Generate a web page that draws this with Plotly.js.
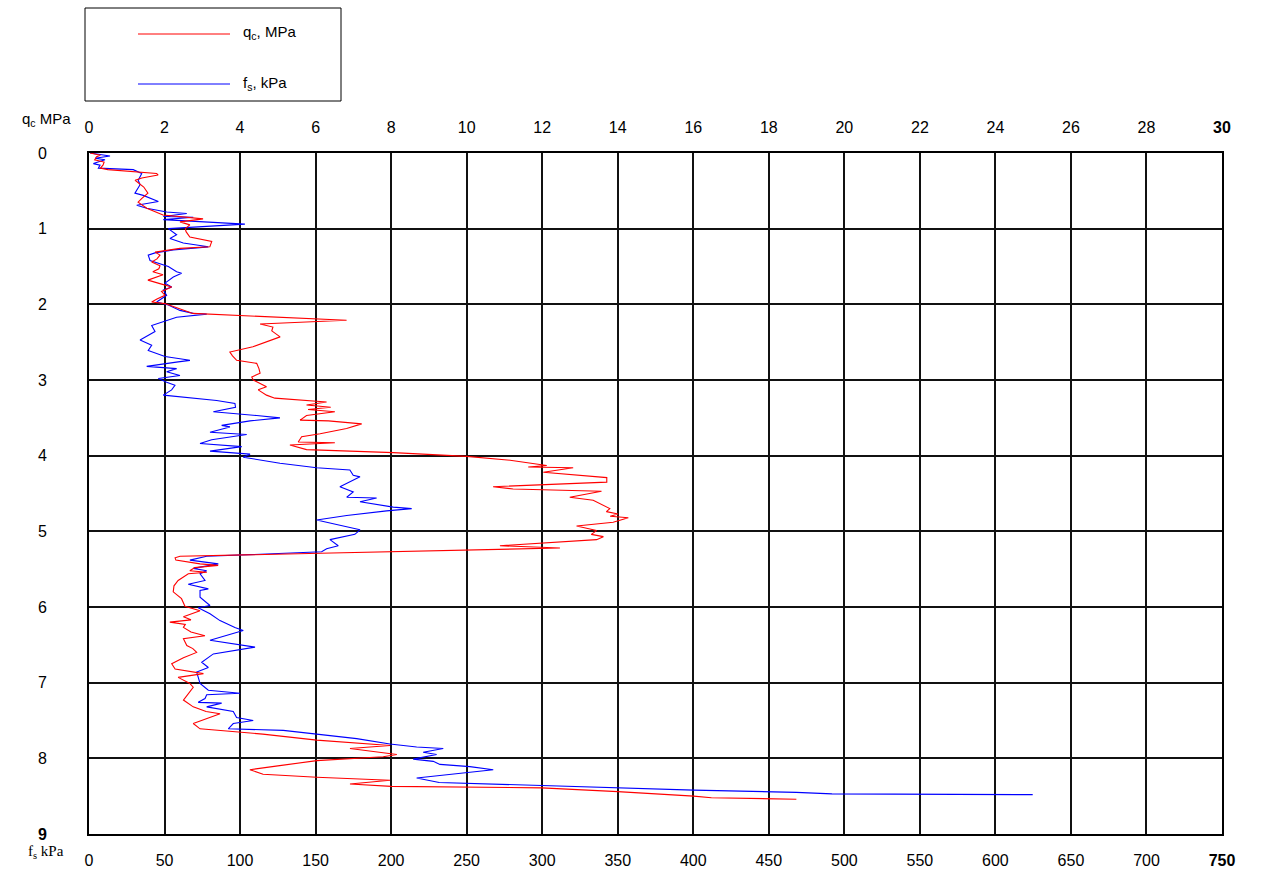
<!DOCTYPE html>
<html>
<head>
<meta charset="utf-8">
<script src="https://cdn.plot.ly/plotly-3.0.1.min.js"></script>
<style>html,body{margin:0;padding:0;background:#fff;}#chart{width:1268px;height:872px;}</style>
</head>
<body>
<div id="chart"></div>
<script>
// Cone resistance qc (MPa) vs depth (m)
const depthQc = [0.00,0.03,0.05,0.09,0.12,0.16,0.20,0.22,0.27,0.29,0.33,0.36,0.45,0.53,0.60,0.65,0.73,0.82,0.87,0.91,0.95,1.00,1.04,1.11,1.17,1.24,1.26,1.31,1.35,1.40,1.44,1.49,1.53,1.57,1.61,1.68,1.73,1.77,1.83,1.88,1.93,1.97,1.99,2.06,2.12,2.21,2.23,2.26,2.30,2.35,2.43,2.50,2.56,2.63,2.68,2.74,2.78,2.85,2.91,2.96,3.00,3.09,3.13,3.20,3.24,3.29,3.31,3.33,3.36,3.39,3.42,3.47,3.53,3.54,3.58,3.64,3.71,3.75,3.82,3.83,3.86,3.92,3.96,4.01,4.06,4.13,4.15,4.16,4.22,4.29,4.35,4.38,4.41,4.44,4.47,4.55,4.59,4.70,4.74,4.77,4.80,4.82,4.88,4.93,4.99,5.04,5.07,5.11,5.19,5.22,5.25,5.29,5.33,5.35,5.38,5.43,5.45,5.48,5.52,5.54,5.56,5.65,5.72,5.80,5.89,5.99,6.05,6.13,6.17,6.20,6.23,6.27,6.33,6.38,6.42,6.51,6.55,6.60,6.67,6.75,6.82,6.88,6.93,7.01,7.06,7.15,7.23,7.32,7.38,7.41,7.46,7.54,7.61,7.63,7.68,7.76,7.83,7.87,7.95,7.98,8.03,8.10,8.15,8.21,8.25,8.29,8.34,8.37,8.39,8.44,8.46,8.50,8.52,8.53,8.54];
const qcValues = [0.03,0.30,0.20,0.15,0.40,0.37,0.30,0.50,1.79,1.83,1.40,1.22,1.45,1.56,1.40,1.30,1.53,1.96,3.02,2.41,2.67,2.55,2.57,2.67,3.25,3.20,2.41,1.75,1.88,1.80,1.66,1.88,1.85,1.69,1.96,1.56,1.90,2.19,1.92,2.01,1.80,1.66,2.01,2.40,2.75,6.82,6.03,4.53,4.87,4.84,5.06,4.70,4.34,3.73,3.80,3.91,4.44,4.50,4.53,4.31,4.35,4.70,4.48,4.70,4.92,6.29,6.00,5.76,6.40,5.80,6.51,5.76,5.59,6.34,7.22,6.82,6.12,5.63,5.54,6.51,5.32,5.76,8.06,10.00,11.15,12.12,11.63,12.82,12.03,13.71,13.71,12.03,10.70,11.23,13.57,12.73,13.35,13.79,13.70,14.01,13.80,14.28,13.88,12.91,13.44,13.30,13.62,13.44,10.88,12.47,10.00,6.12,2.41,2.28,2.30,2.94,3.42,2.80,2.67,3.12,2.63,2.36,2.25,2.23,2.45,2.54,2.94,2.50,2.70,2.14,2.55,2.50,2.70,3.07,2.50,2.59,2.75,2.85,2.50,2.19,2.28,3.03,2.36,2.67,2.76,2.63,2.50,2.76,3.10,3.47,3.20,2.76,2.94,3.38,4.60,6.03,7.97,6.91,8.15,7.79,6.03,5.00,4.26,4.61,6.03,7.97,6.91,8.00,11.99,14.00,14.71,16.01,16.48,18.02,18.73];

// Sleeve friction fs (kPa) vs depth (m)
const depthFs = [0.00,0.04,0.07,0.09,0.14,0.16,0.20,0.22,0.27,0.36,0.42,0.53,0.56,0.64,0.69,0.73,0.78,0.80,0.84,0.85,0.88,0.94,1.00,1.08,1.13,1.19,1.24,1.28,1.32,1.35,1.42,1.50,1.57,1.59,1.64,1.72,1.77,1.81,1.88,1.97,2.01,2.05,2.08,2.12,2.13,2.17,2.23,2.28,2.36,2.47,2.54,2.61,2.69,2.74,2.76,2.82,2.85,2.89,2.94,2.98,3.03,3.07,3.13,3.20,3.27,3.31,3.36,3.42,3.47,3.50,3.54,3.60,3.62,3.69,3.72,3.79,3.84,3.88,3.94,3.98,4.02,4.04,4.10,4.16,4.19,4.26,4.28,4.41,4.48,4.55,4.56,4.61,4.68,4.70,4.73,4.79,4.85,4.91,4.98,5.04,5.11,5.19,5.23,5.27,5.30,5.33,5.38,5.43,5.49,5.52,5.56,5.65,5.70,5.76,5.78,5.87,5.98,6.01,6.09,6.18,6.27,6.31,6.44,6.53,6.62,6.73,6.80,6.86,7.01,7.10,7.14,7.16,7.21,7.26,7.27,7.32,7.38,7.46,7.50,7.54,7.61,7.63,7.68,7.74,7.81,7.85,7.87,7.92,7.95,8.01,8.04,8.08,8.11,8.15,8.26,8.29,8.32,8.36,8.42,8.45,8.47,8.48];
const fsValues = [0.7,13.9,4.0,10.6,2.9,7.3,6.2,29.3,34.9,32.6,33.8,30.4,35.9,45.9,31.6,38.2,51.4,64.7,49.2,69.0,49.2,103.2,52.5,58.0,53.6,62.4,79.0,55.8,43.7,39.2,40.4,52.5,58.0,61.3,55.8,50.3,54.7,49.2,51.4,44.8,52.5,56.9,60.2,69.0,77.9,58.0,48.1,41.5,43.7,33.8,41.5,39.2,50.3,66.8,59.0,38.2,58.0,51.4,60.2,45.9,51.4,56.9,54.7,49.2,84.5,96.6,97.0,82.3,111.0,126.4,106.6,87.8,93.3,80.1,104.4,81.2,73.5,101.1,80.1,106.6,102.1,108.7,126.4,150.7,172.7,174.9,179.4,166.1,174.9,170.6,190.4,179.4,201.4,213.6,197.0,170.6,150.7,163.9,179.4,176.0,159.5,165.0,157.3,154.0,108.7,77.9,66.8,85.6,69.0,77.9,73.5,76.8,65.7,79.0,73.5,73.5,80.1,72.3,80.1,86.7,96.6,102.1,80.1,109.9,82.3,74.6,79.0,71.3,73.5,79.0,100.0,77.9,76.8,72.3,87.8,77.9,95.5,97.7,108.7,95.5,92.2,128.6,150.7,177.2,199.2,216.9,234.5,221.2,230.1,214.6,227.9,232.3,252.1,267.6,216.9,225.7,231.8,299.8,400.3,468.2,491.8,624.7];

// Tick labels
const qcTickVals = [0,2,4,6,8,10,12,14,16,18,20,22,24,26,28,30];
const qcTickText = ["0","2","4","6","8","10","12","14","16","18","20","22","24","26","28","<b>30</b>"];
const fsTickVals = [0,50,100,150,200,250,300,350,400,450,500,550,600,650,700,750];
const fsTickText = ["0","50","100","150","200","250","300","350","400","450","500","550","600","650","700","<b>750</b>"];
const depthTickVals = [0,1,2,3,4,5,6,7,8,9];
const depthTickText = ["0","1","2","3","4","5","6","7","8","<b>9</b>"];

const seriesNames = ["q<sub>c</sub>, MPa", "f<sub>s</sub>, kPa"];
const seriesColors = ["#ff0000", "#0000ff"];

const FONT = "Liberation Sans, Arial, sans-serif";

const traces = [
  {x: qcValues, y: depthQc, xaxis: 'x2', yaxis: 'y', mode: 'lines', name: seriesNames[0],
   line: {color: seriesColors[0], width: 1.1}, showlegend: false, hoverinfo: 'x+y'},
  {x: fsValues, y: depthFs, xaxis: 'x', yaxis: 'y', mode: 'lines', name: seriesNames[1],
   line: {color: seriesColors[1], width: 1.1}, showlegend: false, hoverinfo: 'x+y'}
];

// paper-coordinate helpers for the legend box (pixel -> paper)
const L = 89, R = 1222, T = 153, B = 834;
const px = v => (v - L) / (R - L);
const py = v => (B - v) / (B - T);

const layout = {
  width: 1268, height: 872,
  margin: {l: L, r: 1268 - R, t: T, b: 872 - B, pad: 0},
  paper_bgcolor: '#ffffff', plot_bgcolor: '#ffffff',
  font: {family: FONT, size: 16, color: '#000'},
  showlegend: false,
  xaxis: {
    range: [0, 750], tickmode: 'array', tickvals: fsTickVals, ticktext: fsTickText,
    side: 'bottom', showgrid: true, gridcolor: '#111', gridwidth: 2,
    showline: true, linecolor: '#000', linewidth: 2, mirror: true,
    ticks: 'outside', ticklen: 11, tickcolor: 'rgba(0,0,0,0)',
    zeroline: false, automargin: false, tickfont: {family: FONT, size: 16, color: '#000'}
  },
  xaxis2: {
    range: [0, 30], tickmode: 'array', tickvals: qcTickVals, ticktext: qcTickText,
    overlaying: 'x', side: 'top', anchor: 'y', showgrid: false,
    showline: false, ticks: 'outside', ticklen: 13, tickcolor: 'rgba(0,0,0,0)',
    zeroline: false, automargin: false, tickfont: {family: FONT, size: 16, color: '#000'}
  },
  yaxis: {
    range: [9, 0], tickmode: 'array', tickvals: depthTickVals, ticktext: depthTickText,
    showgrid: true, gridcolor: '#111', gridwidth: 2,
    showline: true, linecolor: '#000', linewidth: 2, mirror: true,
    ticks: 'outside', ticklen: 37, tickcolor: 'rgba(0,0,0,0)',
    zeroline: false, automargin: false, tickfont: {family: FONT, size: 16, color: '#000'}
  },
  shapes: [
    {type: 'rect', xref: 'paper', yref: 'paper', x0: px(85), x1: px(341), y0: py(101), y1: py(8),
     line: {color: '#000', width: 1}, fillcolor: 'rgba(0,0,0,0)'},
    {type: 'line', xref: 'paper', yref: 'paper', x0: px(138), x1: px(230), y0: py(34), y1: py(34),
     line: {color: seriesColors[0], width: 1}},
    {type: 'line', xref: 'paper', yref: 'paper', x0: px(138), x1: px(230), y0: py(84), y1: py(84),
     line: {color: seriesColors[1], width: 1}}
  ],
  annotations: [
    {xref: 'paper', yref: 'paper', x: px(241), y: py(33), xanchor: 'left', yanchor: 'middle',
     text: seriesNames[0], showarrow: false, font: {family: FONT, size: 15, color: '#000'}},
    {xref: 'paper', yref: 'paper', x: px(241), y: py(83), xanchor: 'left', yanchor: 'middle',
     text: seriesNames[1], showarrow: false, font: {family: FONT, size: 15, color: '#000'}},
    {xref: 'paper', yref: 'paper', x: px(20), y: py(119), xanchor: 'left', yanchor: 'middle',
     text: 'q<sub>c</sub> MPa', showarrow: false, font: {family: FONT, size: 15, color: '#000'}},
    {xref: 'paper', yref: 'paper', x: px(26), y: py(852), xanchor: 'left', yanchor: 'middle',
     text: 'f<sub>s</sub> kPa', showarrow: false, font: {family: 'Liberation Serif, Times New Roman, serif', size: 15, color: '#000'}}
  ]
};

Plotly.newPlot('chart', traces, layout, {displayModeBar: false, staticPlot: true});
</script>
</body>
</html>
